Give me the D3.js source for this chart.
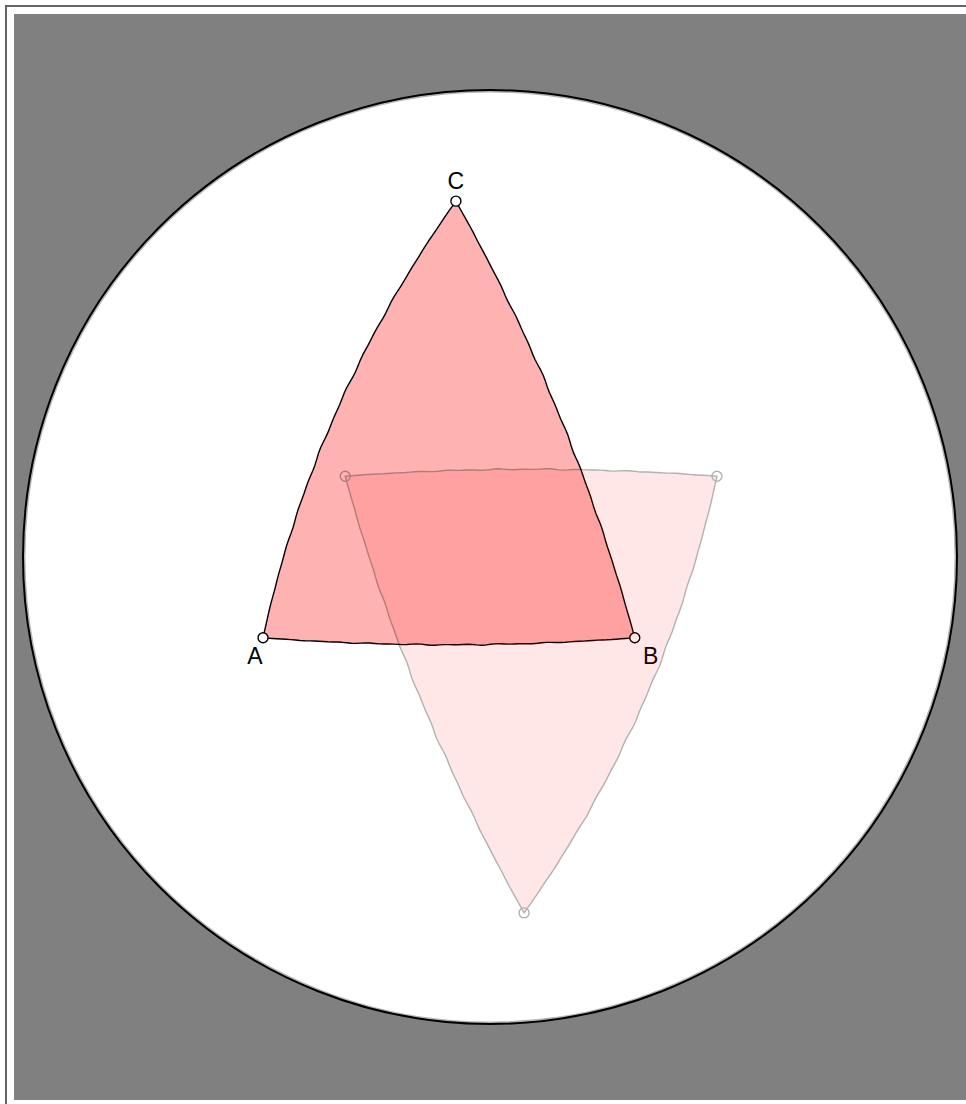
<!DOCTYPE html>
<html>
<head>
<meta charset="utf-8">
<script src="https://cdn.jsdelivr.net/npm/d3@7.9.0/dist/d3.min.js"></script>
<style>
  html, body { margin: 0; padding: 0; overflow: hidden; background: #fff; }
  .frame {
    position: absolute; left: 5px; top: 5px;
    border-left: 2px solid #666; border-top: 2px solid #666;
    padding: 7px 20px 20px 7px;
  }
  svg { display: block; }
</style>
</head>
<body>
<div class="frame"><svg id="disk" width="952" height="1086"></svg></div>
<script>
// triangle vertices in unit-disk coordinates (y up)
const labels = ['A', 'B', 'C'];
const vx = [-0.486, 0.310, -0.073];
const vy = [-0.173, -0.173, 0.762];
// equator radius of the stereographic projection, in disk radii
const k = 1.4;

const width = 952, height = 1086, R = 467;
const cx = width / 2, cy = height / 2;

const x = d3.scaleLinear().domain([-1, 1]).range([cx - R, cx + R]);
const y = d3.scaleLinear().domain([-1, 1]).range([cy + R, cy - R]);

const svg = d3.select('#disk');
svg.append('rect').attr('width', width).attr('height', height).attr('fill', '#808080');

svg.append('circle')
  .attr('cx', x(0)).attr('cy', y(0)).attr('r', R - 1.5)
  .attr('fill', '#fff').attr('stroke', '#b4b4b4').attr('stroke-width', 2);
svg.append('circle')
  .attr('cx', x(0)).attr('cy', y(0)).attr('r', R)
  .attr('fill', 'none').attr('stroke', '#000').attr('stroke-width', 2);

function circumcenter(a, b, c) {
  const d = 2 * (a[0] * (b[1] - c[1]) + b[0] * (c[1] - a[1]) + c[0] * (a[1] - b[1]));
  const a2 = a[0] * a[0] + a[1] * a[1], b2 = b[0] * b[0] + b[1] * b[1], c2 = c[0] * c[0] + c[1] * c[1];
  return [
    (a2 * (b[1] - c[1]) + b2 * (c[1] - a[1]) + c2 * (a[1] - b[1])) / d,
    (a2 * (c[0] - b[0]) + b2 * (a[0] - c[0]) + c2 * (b[0] - a[0])) / d
  ];
}

// great-circle arc from p to q, with a slight hand-drawn wobble
function arc(p, q, n = 80) {
  const s = -k * k / (p[0] * p[0] + p[1] * p[1]);
  const anti = [p[0] * s, p[1] * s];
  const o = circumcenter(p, q, anti);
  const r = Math.hypot(p[0] - o[0], p[1] - o[1]);
  const a0 = Math.atan2(p[1] - o[1], p[0] - o[0]);
  let da = Math.atan2(q[1] - o[1], q[0] - o[0]) - a0;
  if (da > Math.PI) da -= 2 * Math.PI;
  if (da < -Math.PI) da += 2 * Math.PI;
  return d3.range(n).map(i => {
    const t = a0 + da * i / n;
    const w = Math.sin(i * 0.9) * Math.sin(i * 0.23) * 0.0015 * Math.sin(Math.PI * i / n);
    return [o[0] + (r + w) * Math.cos(t), o[1] + (r + w) * Math.sin(t)];
  });
}

const line = d3.line().x(d => x(d[0])).y(d => y(d[1])).curve(d3.curveLinearClosed);

function drawTriangle(g, pts, showLabels) {
  const outline = [];
  pts.forEach((p, i) => outline.push(...arc(p, pts[(i + 1) % 3])));
  g.append('path').attr('d', line(outline))
    .attr('fill', 'rgba(255,0,0,0.3)').attr('stroke', '#000').attr('stroke-width', 1.4)
    .attr('stroke-linejoin', 'round');
  g.selectAll('circle.pt').data(pts).join('circle').attr('class', 'pt')
    .attr('cx', d => x(d[0])).attr('cy', d => y(d[1])).attr('r', 5)
    .attr('fill', showLabels ? '#fff' : 'none').attr('stroke', '#000').attr('stroke-width', 1.4);
  if (showLabels) {
    const off = [[-8, 26], [16, 26], [0, -12]];
    g.selectAll('text').data(pts).join('text')
      .attr('x', (d, i) => x(d[0]) + off[i][0])
      .attr('y', (d, i) => y(d[1]) + off[i][1])
      .attr('text-anchor', 'middle')
      .attr('font-family', 'Liberation Sans, Arial, sans-serif')
      .attr('font-size', 23)
      .text((d, i) => labels[i]);
  }
}

const tri = vx.map((v, i) => [v, vy[i]]);
drawTriangle(svg.append('g'), tri, true);
// point reflection through the disk centre, faded
drawTriangle(svg.append('g').attr('opacity', 0.3), tri.map(p => [-p[0], -p[1]]), false);
</script>
</body>
</html>
